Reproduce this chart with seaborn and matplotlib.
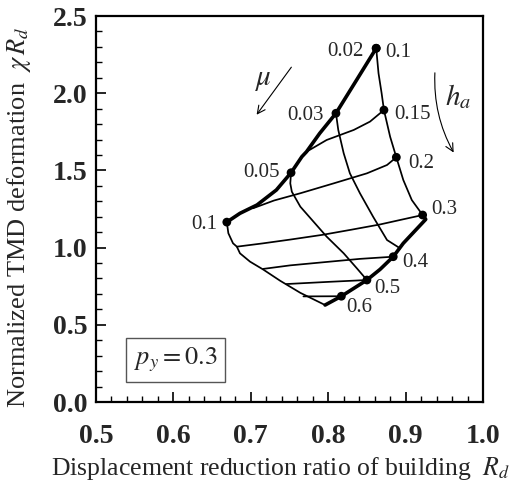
import matplotlib
matplotlib.use("Agg")
import matplotlib.pyplot as plt
import seaborn as sns
from matplotlib.ticker import MultipleLocator

# --- curves of constant TMD mass ratio mu (thin) ---
MU_002_RD = [0.862, 0.865, 0.869, 0.872, 0.880, 0.888, 0.897, 0.908, 0.922]
MU_002_CHI = [2.291, 2.129, 2.000, 1.891, 1.718, 1.585, 1.438, 1.308, 1.211]
MU_003_RD = [0.810, 0.813, 0.820, 0.828, 0.841, 0.858, 0.876, 0.893]
MU_003_CHI = [1.870, 1.762, 1.611, 1.481, 1.352, 1.200, 1.049, 0.995]
MU_005_RD = [0.752, 0.751, 0.753, 0.764, 0.781, 0.798, 0.820, 0.837, 0.850]
MU_005_CHI = [1.485, 1.416, 1.362, 1.265, 1.168, 1.071, 0.963, 0.866, 0.790]
MU_010_RD = [0.669, 0.671, 0.677, 0.682, 0.686, 0.699, 0.716, 0.738, 0.764, 0.796]
MU_010_CHI = [1.165, 1.093, 1.028, 1.006, 0.963, 0.909, 0.858, 0.785, 0.707, 0.628]

# --- curves of constant height ratio h_a (thin) ---
HA_015_RD = [0.772, 0.798, 0.833, 0.854, 0.872]
HA_015_CHI = [1.621, 1.697, 1.762, 1.816, 1.891]
HA_020_RD = [0.703, 0.730, 0.764, 0.807, 0.850, 0.876, 0.888]
HA_020_CHI = [1.255, 1.305, 1.352, 1.416, 1.481, 1.535, 1.585]
HA_030_RD = [0.682, 0.715, 0.751, 0.793, 0.830, 0.867, 0.893, 0.922]
HA_030_CHI = [1.006, 1.027, 1.052, 1.083, 1.116, 1.150, 1.179, 1.211]
HA_040_RD = [0.716, 0.751, 0.800, 0.841, 0.884]
HA_040_CHI = [0.862, 0.885, 0.908, 0.927, 0.941]
HA_050_RD = [0.746, 0.800, 0.850]
HA_050_CHI = [0.764, 0.778, 0.790]
HA_060_RD = [0.768, 0.817]
HA_060_CHI = [0.684, 0.685]

# --- bold outer edges ---
EDGE_UP_RD = [0.862, 0.836, 0.810, 0.789, 0.772, 0.766, 0.752, 0.733, 0.708, 0.686, 0.669]
EDGE_UP_CHI = [2.291, 2.080, 1.870, 1.740, 1.621, 1.589, 1.485, 1.373, 1.276, 1.222, 1.165]
EDGE_LOW_RD = [0.922, 0.926, 0.897, 0.884, 0.867, 0.850, 0.817, 0.796]
EDGE_LOW_CHI = [1.211, 1.183, 1.028, 0.941, 0.859, 0.790, 0.685, 0.628]

# --- labelled points ---
MU_LABELS = ["0.02", "0.03", "0.05", "0.1"]
MU_PT_RD = [0.862, 0.810, 0.752, 0.669]
MU_PT_CHI = [2.291, 1.870, 1.485, 1.165]
HA_LABELS = ["0.1", "0.15", "0.2", "0.3", "0.4", "0.5", "0.6"]
HA_PT_RD = [0.862, 0.872, 0.888, 0.922, 0.884, 0.850, 0.817]
HA_PT_CHI = [2.291, 1.891, 1.585, 1.211, 0.941, 0.790, 0.685]

# label offsets in pixels (dx, dy)
MU_OFFSETS = [(-13, -3), (-12, -2), (-11, 0), (-10, -2)]
HA_OFFSETS = [(9, -4), (10, -4), (12, -6), (9, 6), (9, -6), (7, -8), (5, -11)]

sns.set_theme(style="ticks")
plt.rcParams["font.family"] = ["Liberation Serif", "DejaVu Serif"]
plt.rcParams["mathtext.fontset"] = "stix"

fig = plt.figure(figsize=(5.15, 5.0), dpi=100)
ax = fig.add_axes([0.1864, 0.196, 0.7515, 0.772])

thin = dict(color="black", lw=1.25, sort=False, estimator=None, ax=ax, legend=False)
bold = dict(color="black", lw=2.6, sort=False, estimator=None, ax=ax, legend=False)

for xs, ys in [(MU_002_RD, MU_002_CHI), (MU_003_RD, MU_003_CHI),
               (MU_005_RD, MU_005_CHI), (MU_010_RD, MU_010_CHI),
               (HA_015_RD, HA_015_CHI), (HA_020_RD, HA_020_CHI),
               (HA_030_RD, HA_030_CHI), (HA_040_RD, HA_040_CHI),
               (HA_050_RD, HA_050_CHI), (HA_060_RD, HA_060_CHI)]:
    sns.lineplot(x=xs, y=ys, **thin)

for xs, ys in [(EDGE_UP_RD, EDGE_UP_CHI), (EDGE_LOW_RD, EDGE_LOW_CHI)]:
    sns.lineplot(x=xs, y=ys, **bold)

sns.scatterplot(x=MU_PT_RD + HA_PT_RD, y=MU_PT_CHI + HA_PT_CHI, color="black",
                s=40, edgecolor="none", ax=ax, legend=False, zorder=5)

for lab, x, y, (dx, dy) in zip(MU_LABELS, MU_PT_RD, MU_PT_CHI, MU_OFFSETS):
    ax.annotate(lab, (x, y), xytext=(dx, dy), textcoords="offset pixels",
                ha="right", va="center", fontsize=15)
for lab, x, y, (dx, dy) in zip(HA_LABELS, HA_PT_RD, HA_PT_CHI, HA_OFFSETS):
    ax.annotate(lab, (x, y), xytext=(dx, dy), textcoords="offset pixels",
                ha="left", va="center", fontsize=15)

# direction arrows for mu and h_a
ax.annotate("", xy=(0.7054, 1.846), xytext=(0.7545, 2.183),
            arrowprops=dict(arrowstyle="->", lw=0.8, color="black",
                            mutation_scale=14))
ax.text(0.716, 2.085, r"$\mu$", fontsize=21, ha="center", va="center")
ax.annotate("", xy=(0.9638, 1.600), xytext=(0.938, 2.150),
            arrowprops=dict(arrowstyle="->", lw=0.8, color="black",
                            mutation_scale=14,
                            connectionstyle="arc3,rad=0.15"))
ax.text(0.968, 1.975, r"$h_a$", fontsize=21, ha="center", va="center")

ax.text(0.603, 0.272, r"$p_y = 0.3$", fontsize=19, ha="center", va="center",
        bbox=dict(boxstyle="square,pad=0.3", facecolor="white",
                  edgecolor="#555555", lw=1.0))

ax.set_xlim(0.5, 1.0)
ax.set_ylim(0.0, 2.5)
ax.xaxis.set_major_locator(MultipleLocator(0.1))
ax.xaxis.set_minor_locator(MultipleLocator(0.02))
ax.yaxis.set_major_locator(MultipleLocator(0.5))
ax.yaxis.set_minor_locator(MultipleLocator(0.1))
ax.xaxis.set_major_formatter(plt.FormatStrFormatter("%.1f"))
ax.yaxis.set_major_formatter(plt.FormatStrFormatter("%.1f"))
ax.tick_params(which="both", direction="in", top=False, right=False,
               color="black")
ax.tick_params(which="major", length=7, width=1.2, labelsize=20)
ax.tick_params(axis="x", which="major", pad=16)
ax.tick_params(axis="y", which="major", pad=6)
ax.tick_params(which="minor", length=4, width=1.0)
for lab in ax.get_xticklabels() + ax.get_yticklabels():
    lab.set_fontweight("bold")
for sp in ax.spines.values():
    sp.set_visible(True)
    sp.set_linewidth(1.6)
    sp.set_color("black")

ax.set_xlabel(r"Displacement reduction ratio of building  $R_d$", fontsize=18.5)
ax.set_ylabel(r"Normalized TMD deformation  $\chi\, R_d$", fontsize=19)
ax.xaxis.set_label_coords(0.478, -0.137)
ax.yaxis.set_label_coords(-0.163, 0.478)

fig.savefig("out.png", dpi=100)
